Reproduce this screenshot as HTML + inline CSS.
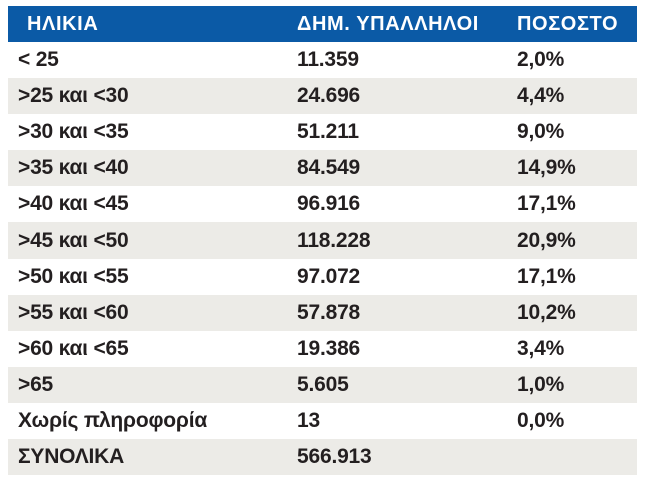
<!DOCTYPE html>
<html><head><meta charset="utf-8"><style>
body{margin:0;background:#fff;width:645px;height:481px;overflow:hidden;font-family:"Liberation Sans",sans-serif;}
.t{position:absolute;left:8px;top:6px;width:629px;}
.r{position:relative;height:36.1px;display:flex;align-items:center;font-weight:bold;font-size:21px;color:#231f20;letter-spacing:-0.2px}
.r.h{background:#0b5aa6;color:#fff;height:36px;font-size:20px;letter-spacing:0.6px}
.c1{position:absolute;left:10px}.c2{position:absolute;left:289px}.c3{position:absolute;left:509px}
.h .c1{left:19px}
</style></head><body>
<div class="t">
<div class="r h"><span class="c1">ΗΛΙΚΙΑ</span><span class="c2">ΔΗΜ. ΥΠΑΛΛΗΛΟΙ</span><span class="c3">ΠΟΣΟΣΤΟ</span></div>
<div class="r" style="background:#fff"><span class="c1">&lt; 25</span><span class="c2">11.359</span><span class="c3">2,0%</span></div>
<div class="r" style="background:#ecebe7"><span class="c1">&gt;25 και &lt;30</span><span class="c2">24.696</span><span class="c3">4,4%</span></div>
<div class="r" style="background:#fff"><span class="c1">&gt;30 και &lt;35</span><span class="c2">51.211</span><span class="c3">9,0%</span></div>
<div class="r" style="background:#ecebe7"><span class="c1">&gt;35 και &lt;40</span><span class="c2">84.549</span><span class="c3">14,9%</span></div>
<div class="r" style="background:#fff"><span class="c1">&gt;40 και &lt;45</span><span class="c2">96.916</span><span class="c3">17,1%</span></div>
<div class="r" style="background:#ecebe7"><span class="c1">&gt;45 και &lt;50</span><span class="c2">118.228</span><span class="c3">20,9%</span></div>
<div class="r" style="background:#fff"><span class="c1">&gt;50 και &lt;55</span><span class="c2">97.072</span><span class="c3">17,1%</span></div>
<div class="r" style="background:#ecebe7"><span class="c1">&gt;55 και &lt;60</span><span class="c2">57.878</span><span class="c3">10,2%</span></div>
<div class="r" style="background:#fff"><span class="c1">&gt;60 και &lt;65</span><span class="c2">19.386</span><span class="c3">3,4%</span></div>
<div class="r" style="background:#ecebe7"><span class="c1">&gt;65</span><span class="c2">5.605</span><span class="c3">1,0%</span></div>
<div class="r" style="background:#fff"><span class="c1">Χωρίς πληροφορία</span><span class="c2">13</span><span class="c3">0,0%</span></div>
<div class="r" style="background:#ecebe7"><span class="c1">ΣΥΝΟΛΙΚΑ</span><span class="c2">566.913</span><span class="c3"></span></div>
</div>
</body></html>
